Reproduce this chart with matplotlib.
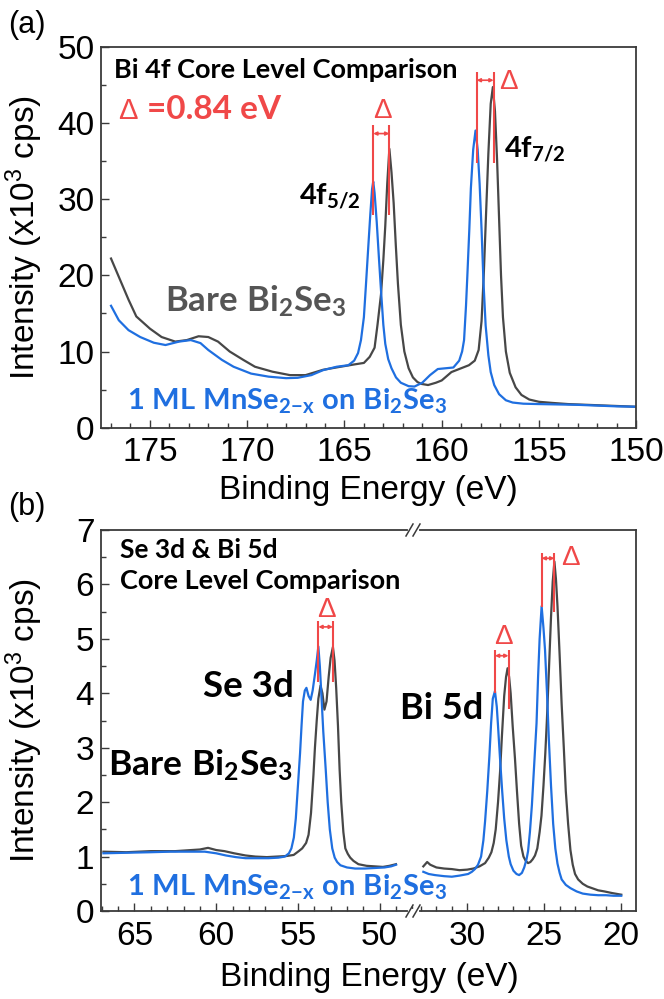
import matplotlib
matplotlib.use('Agg')
import matplotlib.pyplot as plt
from matplotlib.ticker import MultipleLocator
from matplotlib.lines import Line2D

plt.rcParams['font.family'] = ['Liberation Sans', 'DejaVu Sans']
plt.rcParams['mathtext.fontset'] = 'custom'
plt.rcParams['mathtext.rm'] = 'Liberation Sans'
plt.rcParams['mathtext.it'] = 'Liberation Sans:italic'
plt.rcParams['mathtext.bf'] = 'Lato:bold'

BLUE = '#1f6fe0'
GRAY = '#474747'
GRAY_TXT = '#555555'
RED = '#f04848'
SPINE = '#3a3a3a'

# ---------------- Panel (a): Bi 4f ----------------
bi4f_bare_E = [177.0, 176.6, 176.1, 175.7, 175.0, 174.4, 173.7, 173.1, 172.5, 172.0, 171.5, 170.9, 170.2,
               169.6, 168.7, 167.8, 167.0, 166.1, 165.2, 164.5, 164.0, 163.7, 163.45, 163.3, 163.12, 163.0,
               162.9, 162.8, 162.69, 162.58, 162.47, 162.36, 162.25, 162.1, 161.92, 161.7, 161.48, 161.25,
               161.05, 160.7, 160.3, 160.0, 159.5, 159.0, 158.6, 158.3, 158.1, 157.95, 157.83, 157.72, 157.6,
               157.48, 157.37, 157.26, 157.15, 157.05, 156.95, 156.85, 156.7, 156.5, 156.2, 155.9, 155.5,
               155.0, 154.3, 153.5, 152.5, 151.5, 150.5, 150.0]
bi4f_bare_I = [22.2, 19.8, 16.8, 14.6, 13.0, 11.9, 11.3, 11.5, 12.0, 11.9, 11.3, 10.0, 8.9,
               8.0, 7.35, 6.9, 6.9, 7.6, 8.0, 8.3, 8.5, 9.3, 10.5, 13.5, 17.5, 22.0,
               26.5, 32.0, 36.6, 33.5, 29.5, 24.0, 18.9, 13.5, 10.0, 7.8, 6.6, 6.0,
               5.75, 5.6, 5.9, 6.2, 7.3, 7.8, 8.2, 8.8, 10.2, 14.0, 20.5, 28.0, 36.0,
               42.5, 44.7, 41.5, 35.0, 27.5, 20.0, 14.5, 10.0, 7.2, 5.3, 4.3, 3.7,
               3.4, 3.25, 3.1, 3.0, 2.9, 2.8, 2.75]

bi4f_ml_E = [177.0, 176.6, 176.1, 175.5, 174.8, 174.2, 173.5, 172.9, 172.4, 172.0, 171.3, 170.7, 169.8,
             168.9, 168.0, 167.4, 166.7, 166.1, 165.4, 164.8, 164.5, 164.3, 164.15, 164.0, 163.9, 163.78,
             163.67, 163.58, 163.52, 163.45, 163.34, 163.22, 163.12, 163.0, 162.9, 162.75, 162.58, 162.35,
             162.1, 161.7, 161.4, 161.0, 160.6, 160.2, 159.8, 159.4, 159.1, 158.95, 158.85, 158.75, 158.68,
             158.58, 158.5, 158.38, 158.26, 158.15, 158.05, 157.95, 157.85, 157.74, 157.6, 157.48, 157.3,
             157.05, 156.7, 156.35, 155.8, 155.0, 154.0, 153.0, 152.0, 151.0, 150.0]
bi4f_ml_I = [16.0, 14.1, 12.8, 11.9, 11.15, 10.85, 11.3, 11.5, 11.1, 10.2, 8.9, 8.0, 7.1,
             6.7, 6.5, 6.55, 6.9, 7.55, 8.0, 8.2, 8.8, 9.8, 11.5, 14.5, 18.5, 23.5,
             28.0, 31.3, 32.3, 30.8, 27.0, 22.0, 18.0, 13.5, 11.0, 9.0, 7.8, 6.6,
             5.9, 5.45, 5.4, 5.9, 6.9, 7.7, 7.8, 7.9, 8.8, 10.0, 11.5, 16.0, 20.0,
             26.0, 31.4, 36.5, 39.0, 36.5, 32.0, 26.0, 19.0, 13.4, 9.5, 7.3, 5.6,
             4.4, 3.6, 3.3, 3.15, 3.1, 3.05, 3.0, 2.9, 2.8, 2.75]

bi4f_peaks_ml = [163.52, 158.20]
bi4f_peaks_bare = [162.69, 157.33]

# ---------------- Panel (b): Se 3d & Bi 5d ----------------
se3d_bare_E = [66.9, 65.5, 64.0, 62.5, 61.0, 60.5, 60.0, 59.5, 58.9, 58.2, 57.6, 56.9, 56.3, 55.7, 55.26,
               54.95, 54.74, 54.5, 54.35, 54.2, 54.05, 53.96, 53.85, 53.75, 53.62, 53.5, 53.38, 53.25,
               53.12, 53.0, 52.86, 52.76, 52.66, 52.55, 52.45, 52.35, 52.22, 52.1, 51.95, 51.8, 51.6,
               51.3, 50.8, 50.3, 49.8, 49.4, 49.0]
se3d_bare_I = [1.09, 1.08, 1.1, 1.1, 1.13, 1.16, 1.12, 1.1, 1.06, 1.02, 1.0, 0.99, 1.0, 1.01, 1.03,
               1.1, 1.15, 1.25, 1.4, 1.8, 2.5, 3.0, 3.5, 3.9, 4.14, 4.0, 3.7, 3.85,
               4.3, 4.65, 4.85, 4.6, 4.1, 3.4, 2.6, 2.0, 1.45, 1.15, 1.05, 0.98, 0.92,
               0.86, 0.83, 0.82, 0.81, 0.83, 0.86]

se3d_ml_E = [66.9, 65.5, 64.0, 62.8, 61.5, 60.7, 60.0, 59.4, 58.8, 58.2, 57.5, 56.8, 56.2, 55.8, 55.55,
             55.4, 55.25, 55.13, 55.0, 54.87, 54.78, 54.69, 54.58, 54.48, 54.35, 54.22, 54.1, 53.96,
             53.85, 53.75, 53.66, 53.57, 53.45, 53.3, 53.18, 53.05, 52.9, 52.75, 52.6, 52.4, 52.0,
             51.5, 50.9, 50.3, 49.7, 49.3, 49.0]
se3d_ml_I = [1.06, 1.07, 1.08, 1.09, 1.09, 1.09, 1.06, 1.02, 0.99, 0.97, 0.97, 0.97, 0.98, 1.0, 1.06,
             1.15, 1.35, 1.7, 2.3, 2.9, 3.4, 3.85, 4.05, 4.1, 3.95, 3.88, 4.05, 4.35,
             4.6, 4.86, 4.5, 4.0, 3.3, 2.6, 2.0, 1.5, 1.15, 0.98, 0.9, 0.84, 0.8,
             0.78, 0.78, 0.79, 0.8, 0.82, 0.85]

bi5d_bare_E = [32.85, 32.6, 32.4, 32.0, 31.5, 31.0, 30.5, 30.0, 29.6, 29.2, 28.84, 28.6, 28.43, 28.28,
               28.15, 28.0, 27.87, 27.75, 27.6, 27.48, 27.38, 27.28, 27.18, 27.05, 26.9, 26.77, 26.63,
               26.5, 26.35, 26.2, 26.05, 25.9, 25.75, 25.6, 25.45, 25.3, 25.18, 25.05, 24.93, 24.83,
               24.7, 24.56, 24.45, 24.34, 24.24, 24.14, 24.0, 23.87, 23.73, 23.6, 23.45, 23.3, 23.15,
               23.0, 22.8, 22.5, 22.2, 21.9, 21.5, 21.1, 20.6, 20.0]
bi5d_bare_I = [0.82, 0.9, 0.85, 0.8, 0.78, 0.77, 0.75, 0.76, 0.78, 0.82, 0.88, 0.98, 1.08, 1.25,
               1.5, 2.0, 2.55, 3.2, 3.95, 4.3, 4.46, 4.3, 4.0, 3.4, 2.8, 2.2, 1.6,
               1.2, 1.0, 0.92, 0.88, 0.9, 0.95, 1.02, 1.15, 1.45, 1.75, 2.3, 2.9, 3.5,
               4.4, 5.4, 6.05, 6.42, 6.1, 5.6, 4.7, 3.8, 3.0, 2.2, 1.6, 1.12, 0.85,
               0.68, 0.58, 0.5, 0.45, 0.42, 0.38, 0.36, 0.33, 0.3]

bi5d_ml_E = [32.85, 32.5, 32.1, 31.5, 31.0, 30.5, 29.94, 29.7, 29.5, 29.3, 29.1, 28.95, 28.84, 28.7,
             28.56, 28.45, 28.34, 28.2, 28.08, 28.0, 27.87, 27.73, 27.6, 27.46, 27.3, 27.18, 27.0,
             26.8, 26.63, 26.45, 26.3, 26.15, 26.05, 25.93, 25.8, 25.65, 25.5, 25.4, 25.3, 25.17,
             25.05, 24.95, 24.82, 24.7, 24.56, 24.42, 24.28, 24.14, 24.0, 23.87, 23.6, 23.3, 22.9,
             22.5, 22.0, 21.5, 21.0, 20.5, 20.0]
bi5d_ml_I = [0.72, 0.68, 0.66, 0.64, 0.63, 0.65, 0.68, 0.72, 0.77, 0.85, 1.0, 1.3, 1.65, 2.2,
             2.85, 3.45, 3.9, 4.04, 3.75, 3.4, 2.8, 2.2, 1.7, 1.3, 1.0, 0.86, 0.74,
             0.68, 0.66, 0.7, 0.8, 0.95, 1.1, 1.45, 1.95, 2.7, 3.45, 4.3, 5.0, 5.6,
             5.2, 4.8, 4.0, 3.15, 2.3, 1.6, 1.15, 0.87, 0.7, 0.58, 0.48, 0.42, 0.36,
             0.32, 0.3, 0.29, 0.29, 0.28, 0.28]

se3d_peaks = [53.75, 52.86]     # ML, bare
bi5d_peaks_a = [28.20, 27.32]   # ML, bare
bi5d_peaks_b = [25.17, 24.34]   # ML, bare

# ---------------- figure ----------------
fig = plt.figure(figsize=(6.64, 9.99), dpi=100)
W, H = 664.0, 999.0

def fx(px):
    return px / W

def fy(py):
    return 1 - py / H

ax_a = fig.add_axes([fx(101.3), fy(427.7), fx(636.2) - fx(101.3), fy(46.7) - fy(427.7)])
ax_bl = fig.add_axes([fx(101.3), fy(911), fx(413) - fx(101.3), fy(530) - fy(911)])
ax_br = fig.add_axes([fx(413), fy(911), fx(636.2) - fx(413), fy(530) - fy(911)], sharey=ax_bl)
ax_bl.patch.set_visible(False)
ax_br.patch.set_visible(False)


def style(ax):
    for s in ax.spines.values():
        s.set_color(SPINE)
        s.set_linewidth(1.3)
    ax.tick_params(which='both', direction='in', top=False, right=False,
                   color=SPINE, labelcolor='black', labelsize=24, width=1.0)
    ax.tick_params(which='major', length=6)
    ax.tick_params(which='minor', length=3.5)
    ax.tick_params(axis='x', pad=7)
    ax.tick_params(axis='y', pad=5)

for ax in (ax_a, ax_bl, ax_br):
    style(ax)

LW = 1.6
# panel a
ax_a.plot(bi4f_bare_E, bi4f_bare_I, color=GRAY, lw=LW)
ax_a.plot(bi4f_ml_E, bi4f_ml_I, color=BLUE, lw=LW)
ax_a.set_xlim(177.5, 150)
ax_a.set_ylim(0, 50)
ax_a.xaxis.set_major_locator(MultipleLocator(5))
ax_a.xaxis.set_minor_locator(MultipleLocator(1))
ax_a.yaxis.set_major_locator(MultipleLocator(10))
ax_a.yaxis.set_minor_locator(MultipleLocator(5))
ax_a.set_xlabel('Binding Energy (eV)', fontsize=24)
ax_a.xaxis.set_label_coords(0.5, -0.125)
ax_a.set_ylabel('Intensity (x10$^3$ cps)', fontsize=24)
ax_a.yaxis.set_label_coords(-0.106, 0.5)

# panel b
ax_bl.plot(se3d_bare_E, se3d_bare_I, color=GRAY, lw=LW)
ax_bl.plot(se3d_ml_E, se3d_ml_I, color=BLUE, lw=LW)
ax_br.plot(bi5d_bare_E, bi5d_bare_I, color=GRAY, lw=LW)
ax_br.plot(bi5d_ml_E, bi5d_ml_I, color=BLUE, lw=LW)
ax_bl.set_xlim(67.03, 47.96)
ax_br.set_xlim(33.52, 19.03)
ax_bl.set_ylim(0, 7)
for ax in (ax_bl, ax_br):
    ax.xaxis.set_major_locator(MultipleLocator(5))
    ax.xaxis.set_minor_locator(MultipleLocator(1))
ax_bl.yaxis.set_major_locator(MultipleLocator(1))
ax_bl.yaxis.set_minor_locator(MultipleLocator(0.5))
ax_bl.spines['right'].set_visible(False)
ax_br.spines['left'].set_visible(False)
ax_br.tick_params(which='both', left=False, labelleft=False)
ax_bl.set_ylabel('Intensity (x10$^3$ cps)', fontsize=24)
ax_bl.yaxis.set_label_coords(-0.106 * 535 / 311.7, 0.5)
fig.text(fx(369), fy(962), 'Binding Energy (eV)', fontsize=24, ha='center', va='top')

# break marks
for yb in (530, 911):
    fig.add_artist(Line2D([fx(409.5), fx(416.5)], [fy(yb), fy(yb)], color='white', lw=3,
                          transform=fig.transFigure))
    for dx in (-3.5, 3.5):
        x0 = 413 + dx
        fig.add_artist(Line2D([fx(x0 - 3.5), fx(x0 + 3.5)], [fy(yb + 6), fy(yb - 6)],
                              color=SPINE, lw=1.1, transform=fig.transFigure))

# panel labels
fig.text(fx(8), fy(25), '(a)', fontsize=22, ha='left', va='center')
fig.text(fx(8), fy(507), '(b)', fontsize=22, ha='left', va='center')

# text annotations panel a
BOLD = dict(fontfamily='Lato', fontweight='bold')
ax_a.text(176.84, 45.84, 'Bi 4f Core Level Comparison', fontsize=19.5, color='black', va='baseline', **BOLD)
ax_a.text(176.62, 40.46, 'Δ', fontsize=21, color=RED, va='baseline')
ax_a.text(175.15, 40.46, '=0.84 eV', fontsize=24, color=RED, va='baseline', **BOLD)
ax_a.text(164.15, 29.35, r'$\mathbf{4f_{5/2}}$', fontsize=21, color='black', ha='right', va='baseline')
ax_a.text(156.78, 35.56, r'$\mathbf{4f_{7/2}}$', fontsize=21, color='black', ha='left', va='baseline')
ax_a.text(174.2, 15.22, r'$\mathbf{Bare\ Bi_2Se_3}$', fontsize=25, color=GRAY_TXT, va='baseline')
ax_a.text(176.18, 2.4, r'$\mathbf{1\ ML\ MnSe_{2{-}x}\ on\ Bi_2Se_3}$', fontsize=21, color=BLUE, va='baseline')

# text annotations panel b
ax_bl.text(65.86, 6.48, 'Se 3d & Bi 5d', fontsize=19, color='black', va='baseline', **BOLD)
ax_bl.text(65.86, 5.91, 'Core Level Comparison', fontsize=19.5, color='black', va='baseline', **BOLD)
ax_bl.text(60.78, 3.94, 'Se 3d', fontsize=26.5, color='black', va='baseline', **BOLD)
ax_br.text(28.98, 3.52, 'Bi 5d', fontsize=26, color='black', ha='right', va='baseline', clip_on=False, **BOLD)
ax_bl.text(66.59, 2.48, r'$\mathbf{Bare\ Bi_2Se_3}$', fontsize=25.5, color='black', va='baseline')
ax_bl.text(65.47, 0.276, r'$\mathbf{1\ ML\ MnSe_{2{-}x}\ on\ Bi_2Se_3}$', fontsize=21, color=BLUE,
           va='baseline', clip_on=False, zorder=10)


def shift_marker(ax, e_ml, e_bare, y_top, y_bot_ml, y_bot_bare, y_arrow, x_delta, y_delta):
    ax.plot([e_ml, e_ml], [y_bot_ml, y_top], color=RED, lw=1.5, solid_capstyle='butt')
    ax.plot([e_bare, e_bare], [y_bot_bare, y_top], color=RED, lw=1.5, solid_capstyle='butt')
    ax.annotate('', xy=(e_bare, y_arrow), xytext=(e_ml, y_arrow),
                arrowprops=dict(arrowstyle='<|-|>', color=RED, lw=1.2, mutation_scale=5,
                                shrinkA=0, shrinkB=0))
    ax.text(x_delta, y_delta, 'Δ', fontsize=20, color=RED, ha='center', va='baseline')

shift_marker(ax_a, bi4f_peaks_ml[0], bi4f_peaks_bare[0], 39.7, 27.9, 27.9, 38.6, 163.06, 40.6)
shift_marker(ax_a, bi4f_peaks_ml[1], bi4f_peaks_bare[1], 46.7, 34.7, 34.7, 45.6, 156.56, 44.5)
shift_marker(ax_bl, se3d_peaks[0], se3d_peaks[1], 5.32, 4.21, 4.21, 5.22, 53.23, 5.41)
shift_marker(ax_br, bi5d_peaks_a[0], bi5d_peaks_a[1], 4.8, 4.0, 3.72, 4.69, 27.68, 4.9)
shift_marker(ax_br, bi5d_peaks_b[0], bi5d_peaks_b[1], 6.57, 5.59, 5.5, 6.48, 23.31, 6.36)

fig.savefig('out.png', dpi=100)
